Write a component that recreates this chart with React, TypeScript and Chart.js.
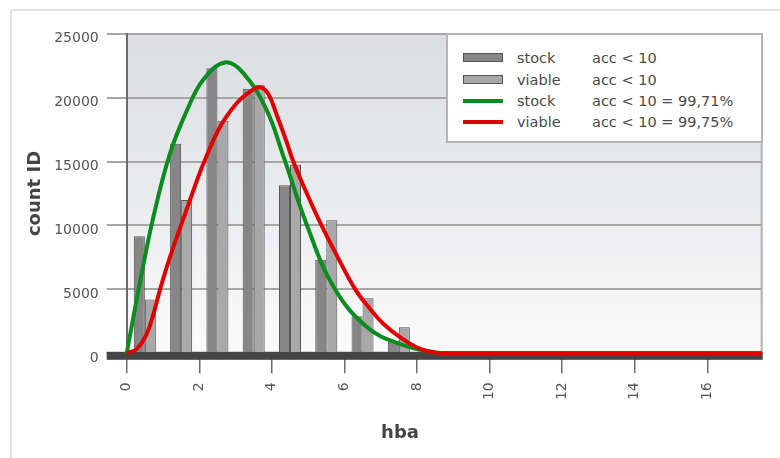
import React, { useEffect, useRef } from "react";
import { Chart, registerables } from "chart.js";

Chart.register(...registerables);

// ---- data ----
const binCenters = [0.5, 1.5, 2.5, 3.5, 4.5, 5.5, 6.5, 7.5];
const stockCounts = [9150, 16400, 22300, 20700, 13150, 7320, 2890, 980];
const viableCounts = [4200, 12000, 18200, 21000, 14750, 10400, 4300, 2030];

const stockFitX = [0, 0.37, 0.73, 1.19, 1.66, 2.11, 2.71, 3.22, 3.86, 4.32, 4.97, 5.7, 6.62, 7.54, 8.46, 8.9, 17.5];
const stockFitY = [0, 5600, 10600, 15600, 19000, 21400, 22750, 21900, 19000, 15400, 10000, 5200, 2050, 720, 80, 0, 0];

const viableFitX = [0, 0.28, 0.55, 0.73, 0.92, 1.19, 1.52, 1.72, 2.11, 2.57, 3.03, 3.4, 3.68, 3.9, 4.14, 4.4, 4.59, 4.98, 5.37, 5.8, 6.3, 6.7, 7.08, 7.54, 8.0, 8.4, 8.75, 17.5];
const viableFitY = [0, 350, 1500, 3000, 5000, 7500, 10200, 11800, 14800, 17700, 19560, 20470, 20800, 20300, 18600, 16600, 15000, 12400, 10000, 7600, 5000, 3500, 2290, 1240, 455, 100, 0, 0];

const xMin = 0;
const xMax = 17.5;
const xStep = 2;
const yMin = 0;
const yMax = 25000;
const yStep = 5000;

const xTitle = "hba";
const yTitle = "count ID";

const legendNames = ["stock", "viable", "stock", "viable"];
const legendNotes = ["acc < 10", "acc < 10", "acc < 10 = 99,71%", "acc < 10 = 99,75%"];

const STOCK_BAR = "#868686";
const VIABLE_BAR = "#a8a8a8";
const BAR_BORDER = "#555555";
const GREEN = "#0a8c1f";
const RED = "#e00000";
const FONT = "'DejaVu Sans', Verdana, sans-serif";

const decorPlugin = {
  id: "decor",
  beforeDraw(chart: any) {
    const { ctx, chartArea } = chart;
    const { left, top, right, bottom } = chartArea;
    const g = ctx.createLinearGradient(0, top, 0, bottom);
    g.addColorStop(0, "#dcdde1");
    g.addColorStop(0.5, "#eaebed");
    g.addColorStop(1, "#fbfbfb");
    ctx.save();
    ctx.fillStyle = g;
    ctx.fillRect(left, top, right - left, bottom - top);
    ctx.restore();
  },
  beforeDatasetsDraw(chart: any) {
    const { ctx, chartArea } = chart;
    const { left, top, right, bottom } = chartArea;
    const y0 = chart.scales.y.getPixelForValue(0);
    ctx.save();
    ctx.strokeStyle = "#b0b0b0";
    ctx.lineWidth = 2;
    ctx.beginPath();
    ctx.moveTo(right, top);
    ctx.lineTo(right, bottom);
    ctx.stroke();
    ctx.fillStyle = "#444444";
    ctx.fillRect(left - 20, y0 - 1.5, right - left + 20 + 1, 8);
    ctx.restore();
  },
};

function App() {
  const canvasRef = useRef<HTMLCanvasElement | null>(null);

  useEffect(() => {
    const canvas = canvasRef.current;
    if (!canvas) return;
    const chart = new Chart(canvas, {
      type: "bar",
      data: {
        datasets: [
          {
            type: "line",
            label: "viable acc < 10 = 99,75%",
            data: viableFitX.map((x, i) => ({ x, y: viableFitY[i] })),
            borderColor: RED,
            backgroundColor: RED,
            borderWidth: 4,
            pointRadius: 0,
            tension: 0.4,
            fill: false,
            order: 0,
            clip: false,
          } as any,
          {
            type: "line",
            label: "stock acc < 10 = 99,71%",
            data: stockFitX.map((x, i) => ({ x, y: stockFitY[i] })),
            borderColor: GREEN,
            backgroundColor: GREEN,
            borderWidth: 4,
            pointRadius: 0,
            tension: 0.4,
            fill: false,
            order: 1,
            clip: false,
          } as any,
          {
            type: "bar",
            label: "stock acc < 10",
            data: binCenters.map((x, i) => ({ x, y: stockCounts[i] })),
            backgroundColor: STOCK_BAR,
            borderColor: BAR_BORDER,
            borderWidth: 1,
            categoryPercentage: 0.607,
            barPercentage: 1,
            order: 2,
          } as any,
          {
            type: "bar",
            label: "viable acc < 10",
            data: binCenters.map((x, i) => ({ x, y: viableCounts[i] })),
            backgroundColor: VIABLE_BAR,
            borderColor: BAR_BORDER,
            borderWidth: 1,
            categoryPercentage: 0.607,
            barPercentage: 1,
            order: 2,
          } as any,
        ],
      },
      options: {
        responsive: false,
        animation: false,
        events: [],
        layout: { padding: { left: 0, top: 33.7, right: 18.3, bottom: 0 } },
        plugins: {
          legend: { display: false },
          tooltip: { enabled: false },
          title: { display: false },
        },
        scales: {
          x: {
            type: "linear",
            min: xMin,
            max: xMax,
            offset: false,
            grid: {
              offset: false,
              drawOnChartArea: false,
              drawTicks: true,
              tickLength: 20,
              color: "#6e6e6e",
              lineWidth: 1.5,
            },
            border: { display: false },
            ticks: {
              stepSize: xStep,
              includeBounds: false,
              autoSkip: false,
              minRotation: 90,
              maxRotation: 90,
              padding: 9,
              color: "#555555",
              font: { family: FONT, size: 14 },
              callback: (v: any) => String(v),
            },
            afterFit: (scale: any) => {
              scale.height = 458 - 353.3;
            },
          },
          y: {
            type: "linear",
            min: yMin,
            max: yMax,
            grid: {
              color: "#a6a6a6",
              lineWidth: 2,
              tickLength: 20,
              drawTicks: true,
            },
            border: { display: true, color: "#6a6a6a", width: 2 },
            ticks: {
              stepSize: yStep,
              padding: 8,
              labelOffset: 5,
              color: "#555555",
              font: { family: FONT, size: 14 },
              callback: (v: any) => String(v),
            },
            title: {
              display: true,
              text: yTitle,
              color: "#444444",
              font: { family: FONT, size: 18, weight: "bold" },
              padding: { top: 25, bottom: 0 },
            },
            afterFit: (scale: any) => {
              scale.width = 126.7;
            },
          },
        },
      },
      plugins: [decorPlugin],
    } as any);
    return () => chart.destroy();
  }, []);

  const rowCenters = [22.7, 44.6, 66.2, 86.8];

  return (
    <div
      style={{
        position: "absolute",
        left: 0,
        top: 0,
        width: 780,
        height: 458,
        overflow: "hidden",
        background: "#ffffff",
        fontFamily: FONT,
      }}
    >
      <div
        style={{
          position: "absolute",
          left: 10,
          top: 9,
          width: 820,
          height: 520,
          border: "2px solid #e4e4e4",
        }}
      />
      <canvas
        ref={canvasRef}
        width={780}
        height={458}
        style={{ position: "absolute", left: 0, top: 0, display: "block" }}
      />
      <div
        style={{
          position: "absolute",
          left: 340,
          top: 421,
          width: 120,
          textAlign: "center",
          fontSize: 18,
          fontWeight: "bold",
          color: "#444444",
          lineHeight: "22px",
        }}
      >
        {xTitle}
      </div>
      <div
        style={{
          position: "absolute",
          left: 446,
          top: 33,
          width: 317,
          height: 110,
          boxSizing: "border-box",
          border: "2px solid #b4b4b4",
          background: "#ffffff",
        }}
      >
        {legendNames.map((name, i) => {
          const isBar = i < 2;
          const color = i === 0 ? STOCK_BAR : i === 1 ? VIABLE_BAR : i === 2 ? GREEN : RED;
          return (
            <div
              key={i}
              style={{
                position: "absolute",
                left: 0,
                top: rowCenters[i] - 10,
                height: 20,
                width: "100%",
                fontSize: 14.5,
                color: "#4a4a4a",
                lineHeight: "20px",
              }}
            >
              <div
                style={{
                  position: "absolute",
                  left: 15,
                  top: isBar ? 5.5 : 8,
                  width: 40,
                  height: isBar ? 9 : 4,
                  boxSizing: "border-box",
                  background: color,
                  border: isBar ? "1.5px solid #555555" : "none",
                }}
              />
              <span style={{ position: "absolute", left: 69, top: 0 }}>{name}</span>
              <span style={{ position: "absolute", left: 144, top: 0 }}>{legendNotes[i]}</span>
            </div>
          );
        })}
      </div>
    </div>
  );
}

export default App;
